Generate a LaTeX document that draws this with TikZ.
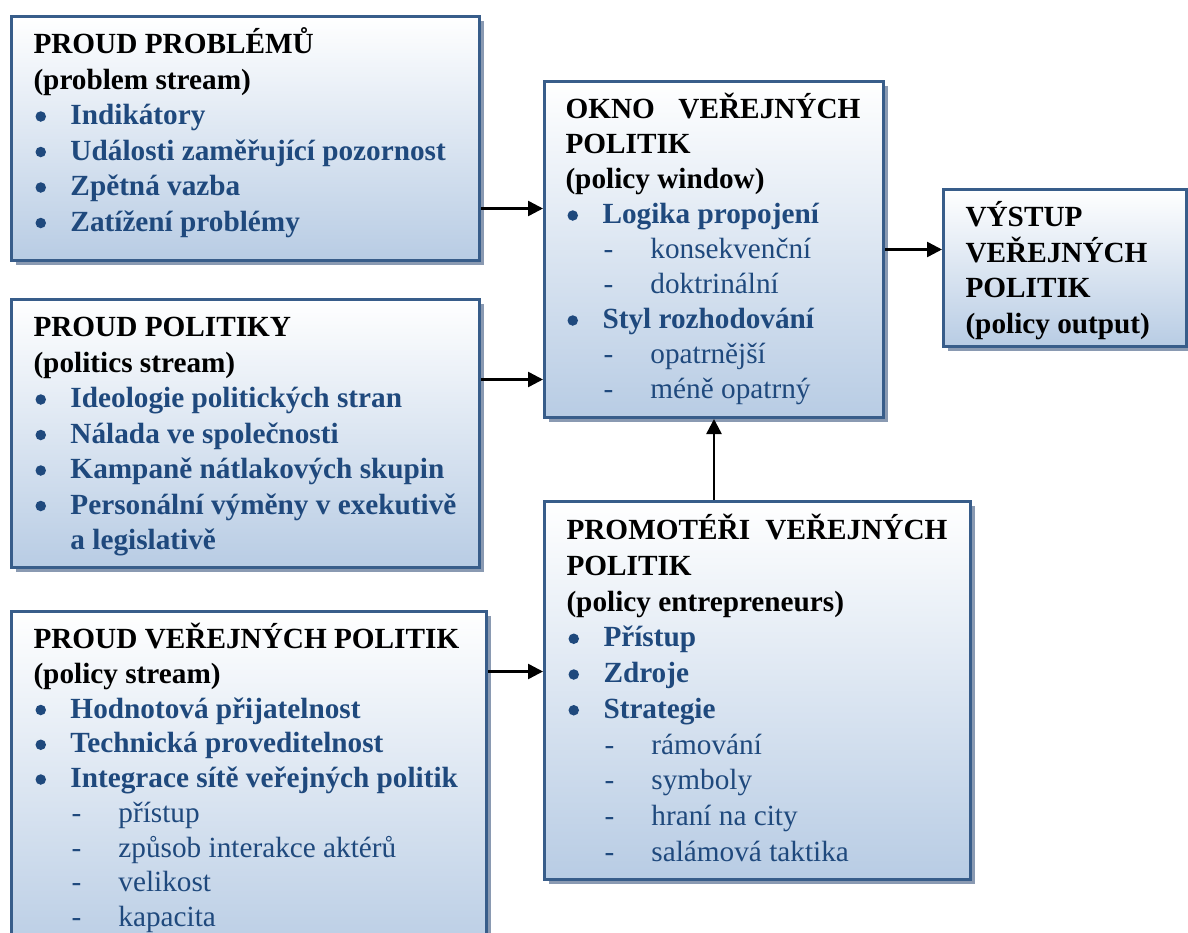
\documentclass[tikz,border=0pt]{standalone}
\usepackage{fontspec}
\setmainfont{Liberation Serif}
\usetikzlibrary{arrows.meta,shadows}
\definecolor{frame}{HTML}{385D8A}
\definecolor{fillblue}{HTML}{B8CCE4}
\definecolor{ink}{HTML}{1F497D}
\definecolor{shade}{HTML}{8A9AB2}
\newlength{\px}\setlength{\px}{0.4pt}
\newcommand{\dotmark}{\tikz[baseline=0pt]{\path (0pt,0pt); \fill[ink] (2.9pt,3.2pt) circle (2.1pt);}}
\newcommand{\bul}[1]{{\color{ink}\makebox[37\px][l]{\dotmark}\textbf{#1}}}
\newcommand{\subitm}[1]{{\color{ink}\hspace*{38\px}\makebox[47\px][l]{-}#1}}
\newcommand{\cont}[1]{{\color{ink}\hspace*{37\px}\textbf{#1}}}
\newcommand{\firstline}{\rule{0pt}{12pt}}

\tikzset{
  box/.style={draw=frame, line width=1.2pt, top color=white, bottom color=fillblue,
    anchor=north west, inner sep=0pt,
    general shadow={fill=shade, shadow xshift=1.6pt, shadow yshift=-1.6pt}},
  txt/.style={anchor=north west, inner sep=0pt, align=left,
    font=\fontsize{11.7}{14.2}\selectfont},
  flow/.style={-{Triangle[length=6pt,width=6pt]}, line width=1pt}
}

\begin{document}
\begin{tikzpicture}[x=0.4pt,y=-0.4pt]
  \useasboundingbox (0,0) rectangle (1188,933);

  % left column: the three streams
  \node[box, minimum width=468\px, minimum height=244\px] (prob) at (10,15) {};
  \node[txt] (probtxt) at ([xshift=23\px,yshift=-8\px]prob.north west) {%
    \firstline\textbf{PROUD PROBLÉMŮ}\\
    \textbf{(problem stream)}\\
    \bul{Indikátory}\\
    \bul{Události zaměřující pozornost}\\
    \bul{Zpětná vazba}\\
    \bul{Zatížení problémy}};

  \node[box, minimum width=468\px, minimum height=268\px] (polit) at (10,298) {};
  \node[txt] (polittxt) at ([xshift=23\px,yshift=-8\px]polit.north west) {%
    \firstline\textbf{PROUD POLITIKY}\\
    \textbf{(politics stream)}\\
    \bul{Ideologie politických stran}\\
    \bul{Nálada ve společnosti}\\
    \bul{Kampaně nátlakových skupin}\\
    \bul{Personální výměny v exekutivě}\\
    \cont{a legislativě}};

  \node[box, minimum width=475\px, minimum height=350\px] (polic) at (10,610) {};
  \node[txt, font=\fontsize{11.7}{13.9}\selectfont] (polictxt)
    at ([xshift=23\px,yshift=-8\px]polic.north west) {%
    \firstline\textbf{PROUD VEŘEJNÝCH POLITIK}\\
    \textbf{(policy stream)}\\
    \bul{Hodnotová přijatelnost}\\
    \bul{Technická proveditelnost}\\
    \bul{Integrace sítě veřejných politik}\\
    \subitm{přístup}\\
    \subitm{způsob interakce aktérů}\\
    \subitm{velikost}\\
    \subitm{kapacita}};

  % middle column
  \node[box, minimum width=339\px, minimum height=336\px] (win) at (543,80) {};
  \node[txt, font=\fontsize{11.7}{14}\selectfont] (wintxt)
    at ([xshift=22\px,yshift=-8\px]win.north west) {%
    \firstline\makebox[295\px][s]{\textbf{OKNO VEŘEJNÝCH}}\\
    \textbf{POLITIK}\\
    \textbf{(policy window)}\\
    \bul{Logika propojení}\\
    \subitm{konsekvenční}\\
    \subitm{doktrinální}\\
    \bul{Styl rozhodování}\\
    \subitm{opatrnější}\\
    \subitm{méně opatrný}};

  \node[box, minimum width=426\px, minimum height=378\px] (ent) at (543,500) {};
  \node[txt, font=\fontsize{11.7}{14.3}\selectfont] (enttxt)
    at ([xshift=23\px,yshift=-9\px]ent.north west) {%
    \firstline\makebox[381\px][s]{\textbf{PROMOTÉŘI VEŘEJNÝCH}}\\
    \textbf{POLITIK}\\
    \textbf{(policy entrepreneurs)}\\
    \bul{Přístup}\\
    \bul{Zdroje}\\
    \bul{Strategie}\\
    \subitm{rámování}\\
    \subitm{symboly}\\
    \subitm{hraní na city}\\
    \subitm{salámová taktika}};

  % right: output
  \node[box, minimum width=243\px, minimum height=157\px] (out) at (942,188) {};
  \node[txt] (outtxt) at ([xshift=23\px,yshift=-8\px]out.north west) {%
    \firstline\textbf{VÝSTUP}\\
    \textbf{VEŘEJNÝCH}\\
    \textbf{POLITIK}\\
    \textbf{(policy output)}};

  % connectors
  \coordinate (a1) at ([yshift=-70\px]prob.east);
  \coordinate (a2) at ([yshift=54\px]polit.east);
  \coordinate (a3) at ([yshift=115\px]polic.east);
  \draw[flow] (a1) -- (a1 -| win.west);
  \draw[flow] (a2) -- (a2 -| win.west);
  \draw[flow] (a3) -- (a3 -| ent.west);
  \draw[flow] (win.east) -- (win.east -| out.west);
  \draw[flow] (win.south |- ent.north) -- (win.south);
\end{tikzpicture}
\end{document}
